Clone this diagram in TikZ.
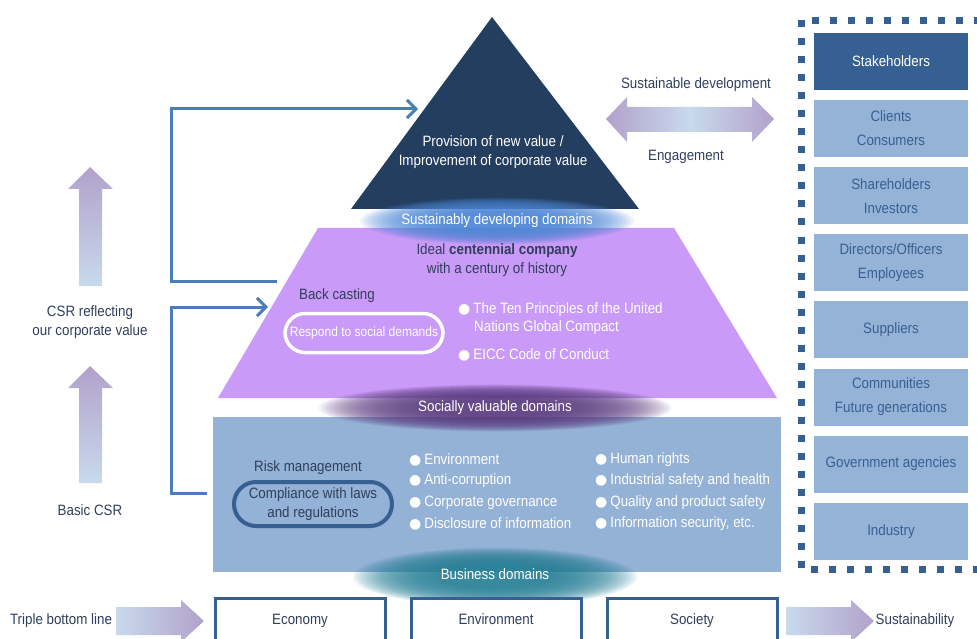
\documentclass[tikz,border=0pt]{standalone}
\usepackage{fontspec}
\setmainfont{Liberation Sans}[FakeStretch=0.89]
\newfontfamily\bulfont{DejaVu Sans}
\usetikzlibrary{arrows.meta,positioning}

\definecolor{toptri}{HTML}{243E5F}
\definecolor{midtrap}{HTML}{C99AF7}
\definecolor{baserect}{HTML}{94B1D6}
\definecolor{linkblue}{HTML}{4A7EBB}
\definecolor{shdark}{HTML}{366092}
\definecolor{shlight}{HTML}{95B3D7}
\definecolor{inktext}{HTML}{303F5C}
\definecolor{arrpurple}{HTML}{B2A1CB}
\definecolor{arrlight}{HTML}{C8DAEC}
\definecolor{glowblue}{HTML}{4F88D6}
\definecolor{glowpurple}{HTML}{5E3F82}
\definecolor{glowteal}{HTML}{2C8298}

\newcommand\bul{{\bulfont\fontsize{14}{14}\selectfont ●}\hspace{3pt}}
% soft glow behind the band labels: stacked translucent ellipses
\newcommand\glowband[5]{%
  \foreach \g in {1,...,32}{%
    \fill[#1,opacity=0.085] (#2,#3) ellipse [x radius={#4*(1-0.02*\g)},y radius={#5*(1-0.02*\g)}];}}

\begin{document}
\begin{tikzpicture}[x=1pt,y=-1pt,
  every node/.style={font=\fontsize{15}{17.5}\selectfont,text=inktext,inner sep=0pt},
  shbox/.style={fill=shlight,text=shdark,minimum width=154pt,minimum height=57pt,align=center},
  shhead/.style={shbox,fill=shdark,text=white},
  tblbox/.style={draw=shdark,line width=3pt,fill=white,minimum width=170pt,minimum height=46pt,text height=10.5pt,text depth=3pt},
  link/.style={linkblue,line width=3pt,-{Straight Barb[length=9pt,width=18pt]}},
  item/.style={anchor=west,text=white}]
\useasboundingbox (0,0) rectangle (977,639);
\clip (0,0) rectangle (977,639);

% pyramid
\fill[toptri] (351,209) -- (492,17) -- (639,209) -- cycle;
\fill[midtrap] (318,228) -- (674,228) -- (777,398) -- (218,398) -- cycle;
\fill[baserect] (213,417) rectangle (781,572);

% glowing band labels
\glowband{glowblue}{497}{221}{140}{24}
\glowband{glowpurple}{495}{408}{180}{24}
\glowband{glowteal}{495}{577}{145}{30}
\node[text=white] (sustDomains) at (497,221) {Sustainably developing domains};
\node[text=white] (socialDomains) at (495,408) {Socially valuable domains};
\node[text=white] (businessDomains) at (495,574) {Business domains};

% top level
\node[text=white,align=center] (newValue) at (493,152) {Provision of new value /\\[1.5pt]Improvement of corporate value};

% middle level
\node (ideal) at (497,251) {Ideal \textbf{centennial company}};
\node (century) at (497,270) {with a century of history};
\node (backCast) at (337,296) {Back casting};
\node[draw=white,line width=3.5pt,rounded corners=20pt,minimum width=158pt,minimum height=39pt,text=white,font=\fontsize{13.5}{16}\selectfont] (respond) at (364,333) {Respond to social demands};
\node[item] (tenPrinciples) at (458,310) {\bul The Ten Principles of the United};
\node[item] (globalCompact) at (474,328) {Nations Global Compact};
\node[item] (eicc) at (458,355) {\bul EICC Code of Conduct};

% base level
\node (risk) at (308,468) {Risk management};
\node[draw=shdark,line width=4pt,rounded corners=22pt,minimum width=158pt,minimum height=44pt,align=center] (comply) at (313,504) {Compliance with laws\\[1.5pt]and regulations};
\node[item] (envItem) at (409,460) {\bul Environment};
\node[item] (corrupt) at (409,481) {\bul Anti-corruption};
\node[item] (governance) at (409,503) {\bul Corporate governance};
\node[item] (disclosure) at (409,524) {\bul Disclosure of information};
\node[item] (humanRights) at (595,460) {\bul Human rights};
\node[item] (safety) at (595,481) {\bul Industrial safety and health};
\node[item] (quality) at (595,503) {\bul Quality and product safety};
\node[item] (infoSec) at (595,524) {\bul Information security, etc.};

% back casting links
\coordinate (castOut) at (277,281);
\coordinate (apexIn) at (418,109);
\coordinate (riskOut) at (207,493);
\coordinate (castIn) at (268,307);
\draw[link] (castOut) -- ++(-106,0) |- (apexIn);
\draw[link] (riskOut) -- ++(-36,0) |- (castIn);

% left column
\shade[top color=arrpurple,bottom color=arrlight] (90,167) -- (113,189) -- (102,189) -- (102,286) -- (79,286) -- (79,189) -- (68,189) -- cycle;
\shade[top color=arrpurple,bottom color=arrlight] (90,366) -- (113,388) -- (102,388) -- (102,483) -- (79,483) -- (79,388) -- (68,388) -- cycle;
\node[align=center] (csrValue) at (90,322) {CSR reflecting\\[1.5pt]our corporate value};
\node (basicCsr) at (90,510) {Basic CSR};

% engagement
\shade[left color=arrpurple,right color=arrpurple,middle color=arrlight] (606,119) -- (627,97) -- (627,107) -- (752,107) -- (752,97) -- (774,119) -- (752,142) -- (752,132) -- (627,132) -- (627,142) -- cycle;
\node (sustDev) at (696,85) {Sustainable development};
\node (engage) at (686,157) {Engagement};

% stakeholders
\draw[shdark,line width=7pt,dash pattern=on 7pt off 11pt] (801.5,20.5) rectangle (990,569.5);
\node[shhead] (stake) at (891,61.5) {Stakeholders};
\node[shbox,below=9.7pt of stake] (clients) {Clients\\[6.5pt]Consumers};
\node[shbox,below=9.7pt of clients] (holders) {Shareholders\\[6.5pt]Investors};
\node[shbox,below=9.7pt of holders] (officers) {Directors/Officers\\[6.5pt]Employees};
\node[shbox,below=9.7pt of officers] (suppliers) {Suppliers};
\node[shbox,below=9.7pt of suppliers] (communities) {Communities\\[6.5pt]Future generations};
\node[shbox,below=9.7pt of communities] (government) {Government agencies};
\node[shbox,below=9.7pt of government] (industry) {Industry};

% triple bottom line
\shade[left color=arrlight,right color=arrpurple] (116,607) -- (181,607) -- (181,600) -- (204,621) -- (181,642) -- (181,635) -- (116,635) -- cycle;
\shade[left color=arrlight,right color=arrpurple] (786,607) -- (851,607) -- (851,600) -- (874,621) -- (851,642) -- (851,635) -- (786,635) -- cycle;
\node (tbl) at (61,621) {Triple bottom line};
\node (sustain) at (915,621) {Sustainability};
\node[tblbox] (economy) at (300,621) {Economy};
\node[tblbox] (environment) at (496,621) {Environment};
\node[tblbox] (society) at (692,621) {Society};
\end{tikzpicture}
\end{document}
